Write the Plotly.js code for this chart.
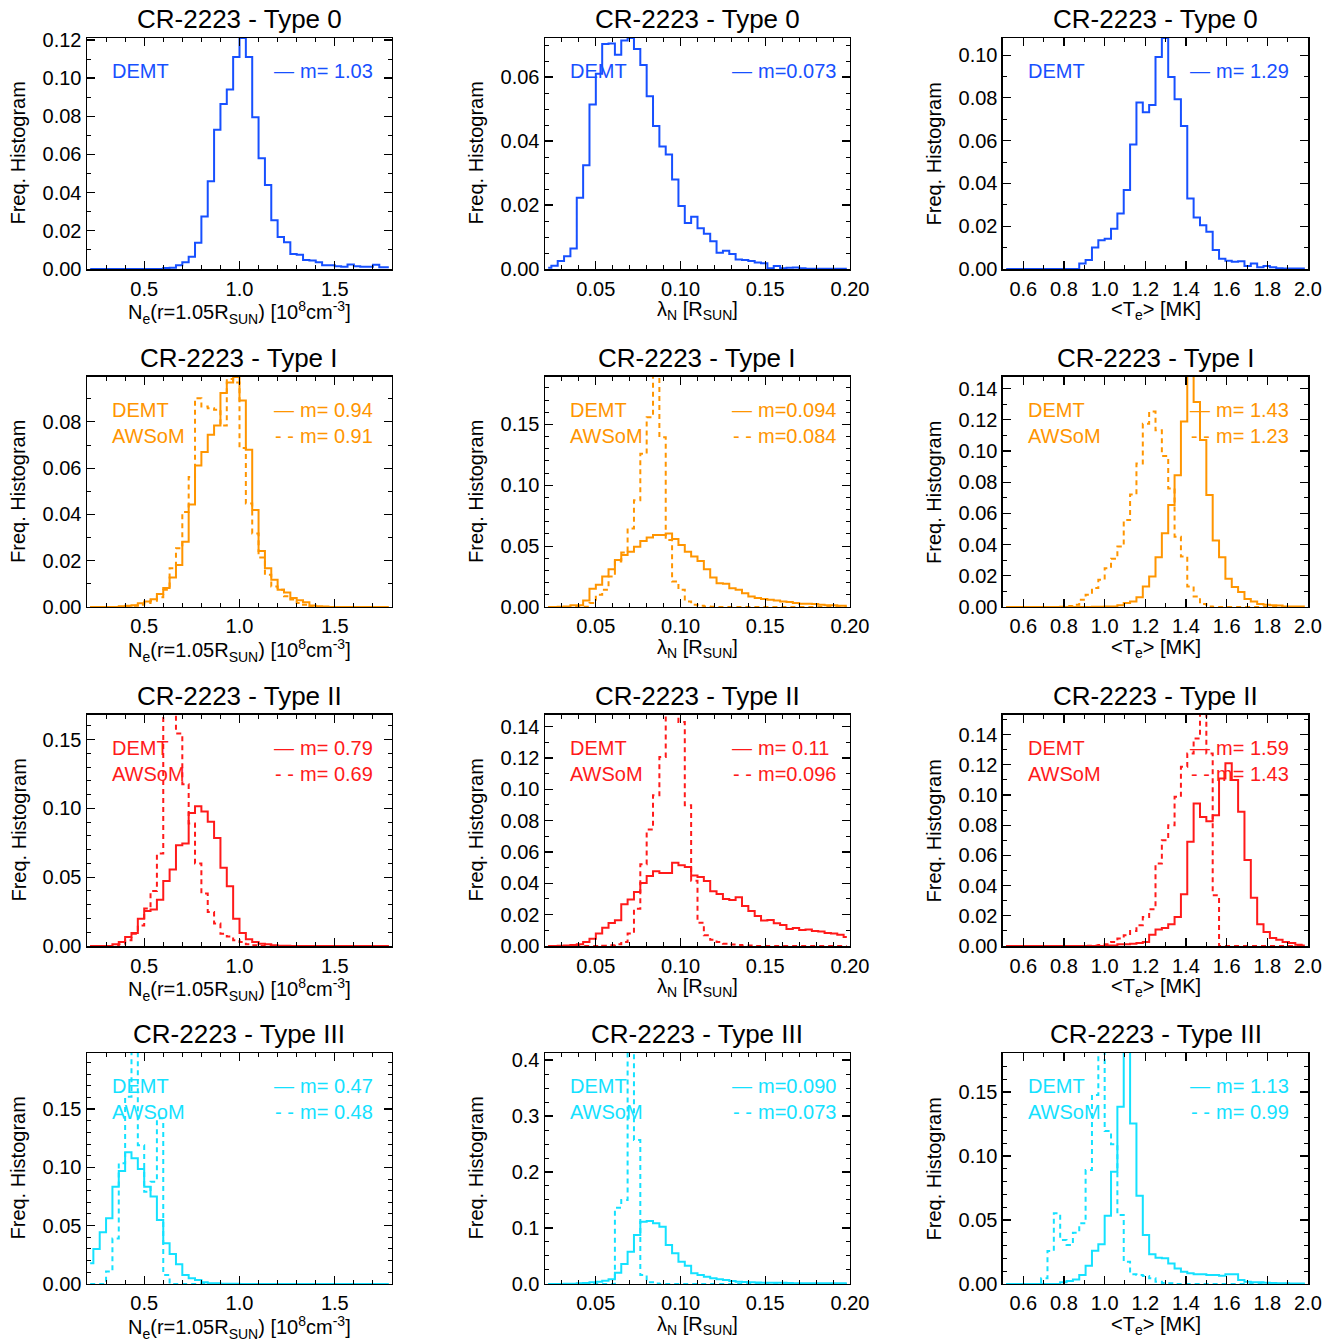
<!DOCTYPE html>
<html>
<head>
<meta charset="utf-8">
<script src="https://cdn.plot.ly/plotly-3.0.1.min.js"></script>
<style>
  html, body { margin: 0; padding: 0; background: #fff; }
  #chart { width: 1335px; height: 1339px; }
</style>
</head>
<body>
<div id="chart"></div>
<script>
// Frequency histograms, 48 bins per panel.
// Columns: Ne(r=1.05Rsun), lambda_N, <Te>; rows: Type 0..III.

const NE_T0_DEMT = [0,0,0,0,0,0,0,0,0,0,0,0,0.0005,0.0007,0.002,0.0035,0.0064,0.0137,0.0275,0.046,0.073,0.0864,0.094,0.111,0.121,0.111,0.0795,0.058,0.044,0.0255,0.0168,0.014,0.0078,0.0075,0.0047,0.0045,0.0035,0.002,0.002,0.0015,0.0012,0.0024,0.0015,0.0012,0.0012,0.0022,0.0009,0.0009];
const LAM_T0_DEMT = [0.0004,0.001,0.0025,0.004,0.0064,0.0223,0.0324,0.0514,0.061,0.0703,0.0705,0.067,0.0714,0.0722,0.0688,0.0638,0.054,0.0447,0.0383,0.0358,0.028,0.0197,0.0144,0.0163,0.0127,0.011,0.0087,0.0051,0.0057,0.0047,0.003,0.0028,0.0025,0.002,0.0018,0.0002,0.0009,0.0002,0.0004,0.0005,0.0002,0.0001,0.0001,0.0001,0.0001,0.0001,0.0001,0.0001];
const TE_T0_DEMT = [0,0,0,0,0,0,0,0,0,0,0,0,0.0026,0.0042,0.0101,0.0135,0.0142,0.0188,0.026,0.0369,0.0582,0.0778,0.0733,0.0767,0.0991,0.108,0.0898,0.0794,0.0669,0.033,0.0241,0.0205,0.0174,0.0089,0.0048,0.0039,0.0034,0.0036,0.0014,0.0026,0.0008,0.0014,0.0008,0.0003,0.0002,0.0002,0.0002,0.0002];

const NE_T1_DEMT = [0,0,0,0,0,0.0003,0.0005,0.0008,0.0016,0.0024,0.0034,0.0056,0.0082,0.0128,0.0182,0.0282,0.0443,0.0612,0.067,0.0744,0.0784,0.0925,0.097,0.0994,0.0892,0.068,0.0419,0.0242,0.0168,0.0118,0.0075,0.0063,0.0039,0.0029,0.002,0.0007,0.0003,0.0002,0,0,0,0,0,0,0,0,0,0];
const NE_T1_AWSOM = [0,0,0,0,0,0,0.0003,0.0005,0.001,0.0017,0.0027,0.0042,0.0075,0.0168,0.0254,0.0411,0.0562,0.0902,0.0867,0.0859,0.0853,0.0784,0.0985,0.097,0.0687,0.0447,0.0318,0.0214,0.0139,0.0089,0.0075,0.0046,0.0032,0.0017,0.001,0,0,0,0,0,0,0,0,0,0,0,0,0];
const LAM_T1_DEMT = [0,0,0.0003,0.0005,0.0014,0.0014,0.0054,0.015,0.0183,0.0251,0.0311,0.0387,0.0428,0.0455,0.0496,0.0542,0.0572,0.0591,0.0591,0.0605,0.0559,0.051,0.0455,0.0414,0.0379,0.0311,0.0243,0.0196,0.0192,0.0155,0.0142,0.0114,0.0087,0.0074,0.0065,0.006,0.0054,0.0046,0.0041,0.0033,0.0027,0.0027,0.0025,0.0019,0.0014,0.0014,0.0011,0.0011];
const LAM_T1_AWSOM = [0,0,0,0,0,0,0.0003,0.0033,0.0101,0.0142,0.0251,0.0373,0.0447,0.0646,0.0877,0.1259,0.1559,0.2,0.1395,0.055,0.021,0.0142,0.0046,0.0019,0.0011,0.0005,0.0003,0,0,0,0,0,0,0,0,0,0,0,0,0,0,0,0,0,0,0,0,0];
const TE_T1_DEMT = [0,0,0,0,0,0,0,0,0,0,0,0,0,0,0.0002,0.0002,0.0004,0.0004,0.0011,0.0026,0.0036,0.0062,0.0132,0.0196,0.0319,0.0472,0.0653,0.0845,0.1189,0.155,0.1313,0.107,0.0717,0.0426,0.0319,0.0181,0.0128,0.0096,0.0051,0.0036,0.0019,0.0015,0.0011,0.0009,0.0004,0.0004,0.0004,0.0004];
const TE_T1_AWSOM = [0,0,0,0,0,0,0,0,0,0.0002,0.0006,0.0015,0.0047,0.0079,0.0121,0.0174,0.0249,0.0309,0.0387,0.0557,0.0721,0.0919,0.1174,0.1253,0.1132,0.0968,0.076,0.0451,0.0323,0.0132,0.0068,0.0019,0.0004,0,0,0,0,0,0,0,0,0,0,0,0,0,0,0];

const NE_T2_DEMT = [0,0,0,0,0.0012,0.0029,0.0066,0.0095,0.0199,0.0255,0.0265,0.0337,0.0473,0.0556,0.0733,0.0745,0.0968,0.1017,0.0978,0.0903,0.0786,0.057,0.0434,0.0199,0.0095,0.0049,0.0029,0.0017,0.0012,0.0005,0.0002,0.0002,0,0,0,0,0,0,0,0,0,0,0,0,0,0,0,0];
const NE_T2_AWSOM = [0,0,0,0,0,0.0012,0.0041,0.009,0.015,0.0272,0.04,0.0672,0.175,0.19,0.1546,0.1177,0.0891,0.06,0.0381,0.0248,0.0163,0.009,0.007,0.0041,0.0029,0.0012,0.0005,0,0,0,0,0,0,0,0,0,0,0,0,0,0,0,0,0,0,0,0,0];
const LAM_T2_DEMT = [0,0,0.0002,0.0003,0.0006,0.0011,0.0026,0.0047,0.0079,0.0117,0.0147,0.0164,0.0266,0.0296,0.0345,0.0402,0.0447,0.0477,0.0466,0.0466,0.0532,0.0515,0.0504,0.045,0.044,0.0415,0.0349,0.0332,0.03,0.0294,0.0311,0.0255,0.0223,0.0191,0.0162,0.0166,0.0145,0.0134,0.0109,0.0115,0.0102,0.0106,0.0096,0.0092,0.0083,0.0079,0.0072,0.0058];
const LAM_T2_AWSOM = [0,0,0,0,0,0,0,0,0,0.0002,0.0005,0.0011,0.0026,0.0079,0.0238,0.0521,0.0743,0.0962,0.1206,0.149,0.148,0.143,0.0898,0.0417,0.0149,0.0068,0.004,0.0026,0.0015,0.0009,0.0006,0.0003,0.0003,0,0,0,0,0,0,0,0,0,0,0,0,0,0,0];
const TE_T2_DEMT = [0,0,0,0,0,0,0,0,0,0,0,0,0,0,0,0,0.0004,0.0004,0.0011,0.0011,0.0015,0.002,0.0027,0.0075,0.011,0.0119,0.0144,0.0192,0.0343,0.069,0.0944,0.0855,0.0827,0.0866,0.111,0.121,0.11,0.089,0.057,0.032,0.0144,0.0093,0.0053,0.0042,0.0026,0.002,0.0009,0.0004];
const TE_T2_AWSOM = [0,0,0,0,0,0,0,0,0,0,0,0,0,0.0002,0.0004,0.0007,0.0011,0.0027,0.0049,0.0071,0.01,0.0137,0.0192,0.0243,0.0546,0.07,0.08,0.0988,0.1187,0.1275,0.1375,0.16,0.1275,0.0336,0,0,0,0,0,0,0,0,0,0,0,0,0,0];

const NE_T3_DEMT = [0.0177,0.03,0.0443,0.0563,0.0834,0.0969,0.1129,0.1077,0.0986,0.0834,0.0749,0.0549,0.0349,0.0257,0.0169,0.0077,0.0049,0.0034,0.0014,0.0006,0.0006,0.0003,0.0003,0.0003,0,0,0,0,0,0,0,0,0,0,0,0,0,0,0,0,0,0,0,0,0,0,0,0];
const NE_T3_AWSOM = [0,0,0,0.0106,0.039,0.1034,0.1606,0.21,0.119,0.079,0.0877,0.142,0.0077,0,0,0,0,0,0,0,0,0,0,0,0,0,0,0,0,0,0,0,0,0,0,0,0,0,0,0,0,0,0,0,0,0,0,0];
const LAM_T3_DEMT = [0,0,0,0.0003,0.0006,0.0012,0.0018,0.003,0.0042,0.006,0.0083,0.0202,0.0357,0.0577,0.0875,0.1113,0.1125,0.1083,0.1024,0.0696,0.0548,0.0399,0.0327,0.019,0.0161,0.0131,0.0101,0.0083,0.0071,0.0054,0.0042,0.0036,0.003,0.0025,0.0024,0.0022,0.0021,0.002,0.0018,0.0015,0.0015,0.0014,0.0014,0.0013,0.0013,0.0012,0.0012,0.0012];
const LAM_T3_AWSOM = [0,0,0,0,0,0,0,0,0,0,0,0.136,0.15,0.45,0.257,0.016,0.003,0.001,0,0,0,0,0,0,0,0,0,0,0,0,0,0,0,0,0,0,0,0,0,0,0,0,0,0,0,0,0,0];
const TE_T3_DEMT = [0,0,0,0,0,0,0,0,0,0.0013,0.0023,0.0036,0.007,0.0143,0.026,0.031,0.0534,0.0878,0.1385,0.19,0.1255,0.069,0.0383,0.0232,0.0206,0.0201,0.0161,0.0122,0.0096,0.0083,0.0076,0.0076,0.007,0.007,0.0065,0.0076,0.0076,0.0031,0.0018,0.0013,0.0013,0.001,0.0008,0.0006,0.0005,0.0004,0.0004,0.0004];
const TE_T3_AWSOM = [0,0,0,0,0,0,0.0044,0.0258,0.0552,0.0344,0.0305,0.0401,0.0474,0.089,0.1477,0.19,0.1195,0.1091,0.0539,0.0174,0.0076,0.007,0.0063,0.0044,0.0018,0.0008,0.0005,0,0,0,0,0,0,0,0,0,0,0,0,0,0,0,0,0,0,0,0,0];

// labels
const TYPE_LABELS = ['Type 0', 'Type I', 'Type II', 'Type III'];
const M_DEMT = [
  ['m= 1.03', 'm=0.073', 'm= 1.29'],
  ['m= 0.94', 'm=0.094', 'm= 1.43'],
  ['m= 0.79', 'm= 0.11', 'm= 1.59'],
  ['m= 0.47', 'm=0.090', 'm= 1.13']
];
const M_AWSOM = [
  [null, null, null],
  ['m= 0.91', 'm=0.084', 'm= 1.23'],
  ['m= 0.69', 'm=0.096', 'm= 1.43'],
  ['m= 0.48', 'm=0.073', 'm= 0.99']
];
const DEMT = [
  [NE_T0_DEMT, LAM_T0_DEMT, TE_T0_DEMT],
  [NE_T1_DEMT, LAM_T1_DEMT, TE_T1_DEMT],
  [NE_T2_DEMT, LAM_T2_DEMT, TE_T2_DEMT],
  [NE_T3_DEMT, LAM_T3_DEMT, TE_T3_DEMT]
];
const AWSOM = [
  [null, null, null],
  [NE_T1_AWSOM, LAM_T1_AWSOM, TE_T1_AWSOM],
  [NE_T2_AWSOM, LAM_T2_AWSOM, TE_T2_AWSOM],
  [NE_T3_AWSOM, LAM_T3_AWSOM, TE_T3_AWSOM]
];

// y-axis top / major / minor step for each panel
const Y_MAX = [
  [0.121, 0.0722, 0.108],
  [0.0994, 0.189, 0.1474],
  [0.168, 0.1474, 0.153],
  [0.198, 0.4125, 0.1805]
];
const Y_DTICK = [
  [0.02, 0.02, 0.02],
  [0.02, 0.05, 0.02],
  [0.05, 0.02, 0.02],
  [0.05, 0.1, 0.05]
];
const Y_MINOR = [
  [0.01, 0.005, 0.01],
  [0.01, 0.01, 0.01],
  [0.01, 0.01, 0.01],
  [0.01, 0.025, 0.01]
];

const ROW_COLORS = ['#1750ff', '#ff9500', '#ff1a1a', '#14e1ff'];

const COLS = [
  { range: [0.2, 1.8], bin0: 0.2, binw: 1.6 / 48, dtick: 0.5, minor: 0.1, fmt: '.1f',
    title: 'N<sub>e</sub>(r=1.05R<sub>SUN</sub>) [10<sup>8</sup>cm<sup>-3</sup>]' },
  { range: [0.02, 0.2000001], bin0: 0.02, binw: 0.18 / 48, dtick: 0.05, minor: 0.01, fmt: '.2f',
    title: 'λ<sub>N</sub> [R<sub>SUN</sub>]' },
  { range: [0.5, 2.0000001], bin0: 0.5, binw: 1.5 / 48, dtick: 0.2, minor: 0.1, fmt: '.1f',
    title: '&lt;T<sub>e</sub>&gt; [MK]' }
];

const X_DOM = [[0.06517, 0.29363], [0.40824, 0.63670], [0.75131, 0.97978]];
const Y_DOM = [[0.79910, 0.97162], [0.54668, 0.71845], [0.29350, 0.46602], [0.04108, 0.21359]];

const FONT = 'Liberation Sans, Arial, Helvetica, sans-serif';

function axisBase() {
  return {
    ticks: 'inside', ticklen: 8, tickwidth: 1.2, tickcolor: '#000',
    mirror: 'allticks', showline: true, linecolor: '#000', linewidth: 1.5,
    showgrid: false, zeroline: false, tickmode: 'linear', tick0: 0,
    tickfont: { family: FONT, size: 20, color: '#000' }
  };
}

const traces = [];
const layout = {
  width: 1335, height: 1339,
  margin: { l: 0, r: 0, t: 0, b: 0 },
  paper_bgcolor: '#fff', plot_bgcolor: '#fff',
  showlegend: false,
  annotations: []
};

for (let r = 0; r < 4; r++) {
  for (let c = 0; c < 3; c++) {
    const n = r * 3 + c + 1;
    const xa = n === 1 ? 'x' : 'x' + n;
    const ya = n === 1 ? 'y' : 'y' + n;
    const col = COLS[c];
    const color = ROW_COLORS[r];

    layout[n === 1 ? 'xaxis' : 'xaxis' + n] = Object.assign(axisBase(), {
      domain: X_DOM[c], anchor: ya, range: col.range,
      dtick: col.dtick, tickformat: col.fmt, ticklabelstandoff: 1,
      minor: { ticks: 'inside', tick0: 0, dtick: col.minor, ticklen: 4, tickwidth: 1, tickcolor: '#000', showgrid: false }
    });
    layout[n === 1 ? 'yaxis' : 'yaxis' + n] = Object.assign(axisBase(), {
      domain: Y_DOM[r], anchor: xa, range: [0, Y_MAX[r][c]],
      dtick: Y_DTICK[r][c], tickformat: Y_DTICK[r][c] >= 0.1 ? '.1f' : '.2f',
      minor: { ticks: 'inside', tick0: 0, dtick: Y_MINOR[r][c], ticklen: 4, tickwidth: 1, tickcolor: '#000', showgrid: false }
    });

    const step = { x0: col.bin0 + col.binw / 2, dx: col.binw };
    traces.push(Object.assign({
      type: 'scatter', mode: 'lines', xaxis: xa, yaxis: ya,
      y: DEMT[r][c], line: { color, width: 2, shape: 'hvh' }, hoverinfo: 'skip'
    }, step));
    if (AWSOM[r][c]) {
      traces.push(Object.assign({
        type: 'scatter', mode: 'lines', xaxis: xa, yaxis: ya,
        y: AWSOM[r][c], line: { color, width: 2, shape: 'hvh', dash: '5px,4px' }, hoverinfo: 'skip'
      }, step));
    }

    const xd = xa + ' domain', yd = ya + ' domain';
    const ann = layout.annotations;
    // panel title
    ann.push({ xref: xd, yref: yd, x: 0.5, y: 1, xanchor: 'center', yanchor: 'bottom', yshift: 2,
      showarrow: false, text: 'CR-2223 - ' + TYPE_LABELS[r], font: { family: FONT, size: 26, color: '#000' } });
    // axis titles
    ann.push({ xref: xd, yref: yd, x: 0.5, y: 0, xanchor: 'center', yanchor: 'top', yshift: -27,
      showarrow: false, text: col.title, font: { family: FONT, size: 20, color: '#000' } });
    ann.push({ xref: xd, yref: yd, x: 0, y: 0.5, xanchor: 'center', yanchor: 'middle', xshift: -69,
      textangle: -90, showarrow: false, text: 'Freq. Histogram', font: { family: FONT, size: 20, color: '#000' } });
    // in-panel labels
    const lf = { family: FONT, size: 20, color };
    ann.push({ xref: xd, yref: yd, x: 0.076, y: 0.857, xanchor: 'left', yanchor: 'middle',
      showarrow: false, text: 'DEMT', font: lf });
    ann.push({ xref: xd, yref: yd, x: 0.685, y: 0.857, xanchor: 'right', yanchor: 'middle',
      showarrow: false, text: '—', font: lf });
    ann.push({ xref: xd, yref: yd, x: 0.685, y: 0.857, xanchor: 'left', yanchor: 'middle', xshift: 2,
      showarrow: false, text: M_DEMT[r][c], font: lf });
    if (M_AWSOM[r][c]) {
      ann.push({ xref: xd, yref: yd, x: 0.076, y: 0.745, xanchor: 'left', yanchor: 'middle',
        showarrow: false, text: 'AWSoM', font: lf });
      ann.push({ xref: xd, yref: yd, x: 0.685, y: 0.745, xanchor: 'right', yanchor: 'middle',
        showarrow: false, text: '- -', font: lf });
      ann.push({ xref: xd, yref: yd, x: 0.685, y: 0.745, xanchor: 'left', yanchor: 'middle', xshift: 2,
        showarrow: false, text: M_AWSOM[r][c], font: lf });
    }
  }
}

Plotly.newPlot('chart', traces, layout, { staticPlot: true, displayModeBar: false });
</script>
</body>
</html>
